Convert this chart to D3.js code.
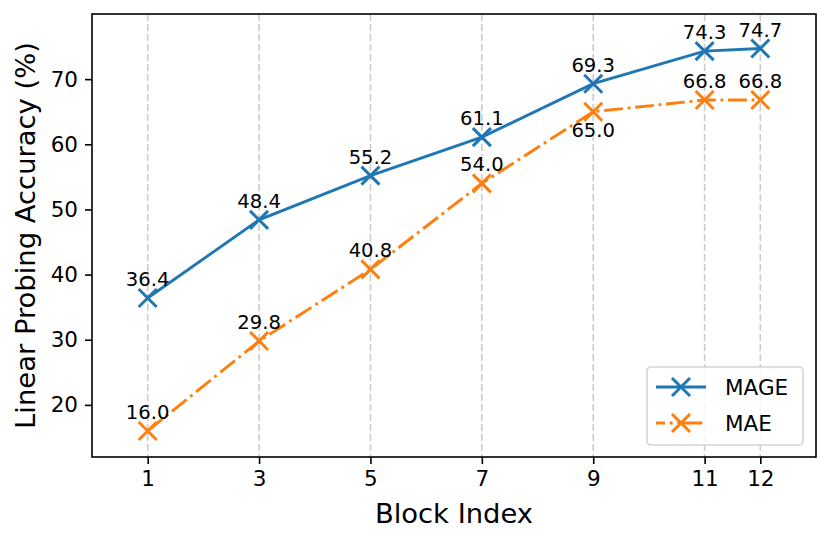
<!DOCTYPE html>
<html>
<head>
<meta charset="utf-8">
<script src="https://cdn.jsdelivr.net/npm/d3@7"></script>
<style>
  body { margin: 0; background: #fff; }
  svg { font-family: "DejaVu Sans", sans-serif; }
</style>
</head>
<body>
<div id="chart"></div>
<script>
// values
var blocks = [1, 3, 5, 7, 9, 11, 12];
var mageAcc = [36.4, 48.4, 55.2, 61.1, 69.3, 74.3, 74.7];
var maeAcc = [16.0, 29.8, 40.8, 54.0, 65.0, 66.8, 66.8];
var yTicks = [20, 30, 40, 50, 60, 70];
var seriesNames = ["MAGE", "MAE"];

var W = 830, H = 544;
var margin = {top: 14, right: 14, bottom: 87, left: 92};
var width = W - margin.left - margin.right;   // 724
var height = H - margin.top - margin.bottom;  // 443

var blue = "#1f77b4", orange = "#ff7f0e";

var svg = d3.select("#chart").append("svg")
    .attr("width", W)
    .attr("height", H);

var g = svg.append("g")
    .attr("transform", "translate(" + margin.left + "," + margin.top + ")");

var x = d3.scaleLinear().domain([0, 13]).range([0, width]);
var y = d3.scaleLinear().domain([12, 80]).range([height, 0]);

// vertical dashed grid at each block
g.selectAll(".grid")
    .data(blocks)
    .enter().append("line")
    .attr("class", "grid")
    .attr("x1", d => x(d)).attr("x2", d => x(d))
    .attr("y1", 0).attr("y2", height)
    .attr("stroke", "#cccccc")
    .attr("stroke-width", 1.6)
    .attr("stroke-dasharray", "7,3");

// axes
var xAxis = g.append("g")
    .attr("transform", "translate(0," + height + ")")
    .call(d3.axisBottom(x).tickValues(blocks).tickSize(7).tickPadding(7).tickFormat(d3.format("d")));
var yAxis = g.append("g")
    .call(d3.axisLeft(y).tickValues(yTicks).tickSize(7).tickPadding(7).tickFormat(d3.format("d")));

[xAxis, yAxis].forEach(function(a) {
  a.select(".domain").remove();
  a.selectAll(".tick line").attr("stroke", "#000").attr("stroke-width", 1.6);
  a.selectAll(".tick text")
    .attr("fill", "#000")
    .style("font-size", "21.5px")
    .style("font-family", "DejaVu Sans");
});
xAxis.selectAll(".tick text").attr("dy", "0.71em");

// frame
g.append("rect")
    .attr("width", width).attr("height", height)
    .attr("fill", "none")
    .attr("stroke", "#000")
    .attr("stroke-width", 1.6);

var line = d3.line()
    .x(d => x(d[0]))
    .y(d => y(d[1]));

var mageData = blocks.map((b, i) => [b, mageAcc[i]]);
var maeData = blocks.map((b, i) => [b, maeAcc[i]]);

function xMark(sel, color) {
  var s = 9;
  sel.append("path")
    .attr("d", "M" + (-s) + "," + (-s) + "L" + s + "," + s + "M" + (-s) + "," + s + "L" + s + "," + (-s))
    .attr("stroke", color)
    .attr("stroke-width", 3)
    .attr("fill", "none");
}

function drawSeries(data, color, dash, cls) {
  g.append("path")
    .datum(data)
    .attr("fill", "none")
    .attr("stroke", color)
    .attr("stroke-width", 2.9)
    .attr("stroke-dasharray", dash)
    .attr("d", line);

  g.selectAll("." + cls)
    .data(data)
    .enter().append("g")
    .attr("class", cls)
    .attr("transform", d => "translate(" + x(d[0]) + "," + y(d[1]) + ")")
    .call(xMark, color);
}

drawSeries(mageData, blue, null, "mageMark");
drawSeries(maeData, orange, "18.8,4.7,2.9,4.7", "maeMark");

// value labels
g.selectAll(".mageLbl")
    .data(mageData)
    .enter().append("text")
    .attr("x", d => x(d[0]))
    .attr("y", d => y(d[1]) - 12)
    .attr("text-anchor", "middle")
    .style("font-size", "19.6px")
    .text(d => d[1].toFixed(1));

g.selectAll(".maeLbl")
    .data(maeData)
    .enter().append("text")
    .attr("x", d => x(d[0]))
    .attr("y", function(d, i) {
      // put it under the point when the blue line sits too close above
      return (mageAcc[i] - d[1] < 5) ? y(d[1]) + 25 : y(d[1]) - 12;
    })
    .attr("text-anchor", "middle")
    .style("font-size", "19.6px")
    .text(d => d[1].toFixed(1));

// axis titles
svg.append("text")
    .attr("x", margin.left + width / 2)
    .attr("y", 523)
    .attr("text-anchor", "middle")
    .style("font-size", "27.4px")
    .text("Block Index");

svg.append("text")
    .attr("transform", "translate(35," + (margin.top + height / 2) + ") rotate(-90)")
    .attr("text-anchor", "middle")
    .style("font-size", "27.4px")
    .text("Linear Probing Accuracy (%)");

// legend
var leg = svg.append("g").attr("transform", "translate(647,367)");
leg.append("rect")
    .attr("width", 156).attr("height", 78)
    .attr("rx", 4).attr("ry", 4)
    .attr("fill", "#fff").attr("fill-opacity", 0.8)
    .attr("stroke", "#d5d5d5")
    .attr("stroke-width", 1.6);

var legColors = [blue, orange];
var legDash = [null, "18.8,4.7,2.9,4.7"];
seriesNames.forEach(function(name, i) {
  var cy = 20 + i * 36;
  leg.append("line")
      .attr("x1", 9).attr("x2", 59)
      .attr("y1", cy).attr("y2", cy)
      .attr("stroke", legColors[i])
      .attr("stroke-width", 2.9)
      .attr("stroke-dasharray", i === 1 ? "9,4.7,2.9,4.7,16,0" : null);
  leg.append("g")
      .attr("transform", "translate(34," + cy + ")")
      .call(xMark, legColors[i]);
  leg.append("text")
      .attr("x", 78).attr("y", cy)
      .attr("dy", "0.36em")
      .style("font-size", "21.5px")
      .text(name);
});
</script>
</body>
</html>
